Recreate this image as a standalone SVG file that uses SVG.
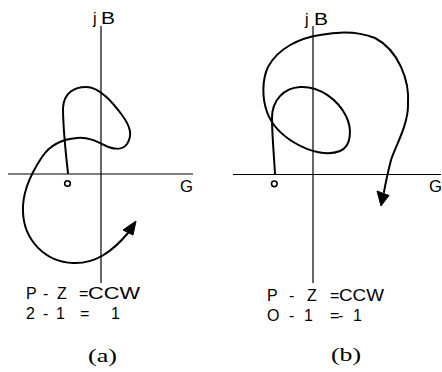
<svg xmlns="http://www.w3.org/2000/svg" width="442" height="372" viewBox="0 0 442 372">
<style>
.ax{stroke:#000;stroke-width:1.2;fill:none}
.cv{stroke:#000;stroke-width:2;fill:none;stroke-linecap:round;stroke-linejoin:round}
.ah{fill:#000;stroke:#000;stroke-width:1;stroke-linejoin:round}
.pt{fill:#fff;stroke:#000;stroke-width:1.6}
.t{font-family:"Liberation Sans",Arial,sans-serif;font-size:16px;fill:#000}
.cap{font-family:"Liberation Serif","Times New Roman",serif;font-size:19px;fill:#000}
</style>
<g id="panel-a">
  <g id="axes-a">
    <line class="ax" x1="101" y1="26" x2="101" y2="283"/>
    <line class="ax" x1="8" y1="174" x2="193" y2="174"/>
    <text class="t"><tspan x="93" y="24">j</tspan><tspan x="101" y="24" textLength="14" lengthAdjust="spacingAndGlyphs">B</tspan></text>
    <text class="t" x="180" y="192" textLength="13" lengthAdjust="spacingAndGlyphs">G</text>
  </g>
  <g id="origin-a">
    <circle class="pt" cx="67.5" cy="183.5" r="2.8"/>
  </g>
  <g id="curve-a">
    <path class="cv" d="M68,173 C66,155 63,130 63,108 C64,92 75,87 86,87 C100,87 113,103 122,115 C130,126 133,135 127,144 C122,151 112,149 104,145 C96,141 88,137 77,138 C63,139 50,145 42,157 C30,175 22,195 23,212 C24,240 45,262 73,263 C95,264 112,252 128,233"/>
    <polygon class="ah" points="136,221 123,230 133,235"/>
  </g>
  <g id="label-a">
    <text class="t"><tspan x="26" y="299">P</tspan><tspan x="43" y="299">-</tspan><tspan x="57" y="299">Z</tspan><tspan x="79" y="299">=</tspan><tspan x="88" y="299" textLength="52" lengthAdjust="spacingAndGlyphs">CCW</tspan></text>
    <text class="t"><tspan x="26" y="319">2</tspan><tspan x="43" y="319">-</tspan><tspan x="56" y="319">1</tspan><tspan x="80" y="319">=</tspan><tspan x="111" y="319">1</tspan></text>
    <text class="cap" x="88" y="362" textLength="29" lengthAdjust="spacingAndGlyphs">(a)</text>
  </g>
</g>
<g id="panel-b">
  <g id="axes-b">
    <line class="ax" x1="313" y1="26" x2="313" y2="283"/>
    <line class="ax" x1="233" y1="174.5" x2="441" y2="174.5"/>
    <text class="t"><tspan x="305" y="25">j</tspan><tspan x="314" y="25" textLength="14" lengthAdjust="spacingAndGlyphs">B</tspan></text>
    <text class="t" x="429" y="192" textLength="13" lengthAdjust="spacingAndGlyphs">G</text>
  </g>
  <g id="origin-b">
    <circle class="pt" cx="274.3" cy="183.8" r="2.8"/>
  </g>
  <g id="curve-b">
    <path class="cv" d="M275,174 C274,155 272,135 272,118 C272,100 284,88 300,87 C320,86 338,100 346,116 C352,128 352,146 340,151 C328,156 310,152 295,143 C283,136 272,126 267,112 C262,98 262,80 268,67 C278,48 300,38 320,35 C335,32 355,30 375,38 C398,50 410,80 408,105 C408,125 396,145 391,160 C389,168 386,180 384,192"/>
    <polygon class="ah" points="381,206 377,191 389,195.5"/>
  </g>
  <g id="label-b">
    <text class="t"><tspan x="267" y="301">P</tspan><tspan x="289" y="301">-</tspan><tspan x="307" y="301">Z</tspan><tspan x="330" y="301">=</tspan><tspan x="339" y="301" textLength="45" lengthAdjust="spacingAndGlyphs">CCW</tspan></text>
    <text class="t"><tspan x="267" y="321">O</tspan><tspan x="289" y="321">-</tspan><tspan x="304" y="321">1</tspan><tspan x="330" y="321">=</tspan><tspan x="338" y="321">-</tspan><tspan x="353" y="321">1</tspan></text>
    <text class="cap" x="331" y="361" textLength="30" lengthAdjust="spacingAndGlyphs">(b)</text>
  </g>
</g>
</svg>
